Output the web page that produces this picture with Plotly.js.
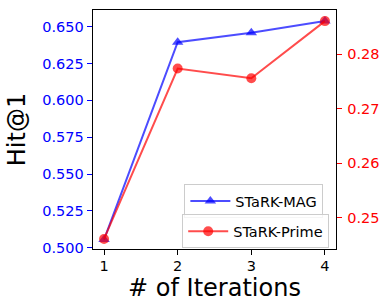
<!DOCTYPE html>
<html>
<head>
<meta charset="utf-8">
<script src="https://cdn.plot.ly/plotly-3.0.1.min.js"></script>
<style>html,body{margin:0;padding:0;background:#fff;}#chart{width:383px;height:302px;}</style>
</head>
<body>
<div id="chart"></div>
<script>
const iterations = [1, 2, 3, 4];
const starkMag = [0.5055, 0.6394, 0.6458, 0.6539];
const starkPrime = [0.2461, 0.2774, 0.2756, 0.2861];
const xTickLabels = ['1', '2', '3', '4'];
const leftTicks = [0.500, 0.525, 0.550, 0.575, 0.600, 0.625, 0.650];
const rightTicks = [0.25, 0.26, 0.27, 0.28];

const font = 'DejaVu Sans, sans-serif';
const traces = [
  {
    x: iterations, y: starkMag, name: 'STaRK-MAG', mode: 'lines+markers',
    line: {color: 'rgba(0,0,255,0.7)', width: 2},
    marker: {symbol: 'triangle-up', size: 10, color: 'rgba(0,0,255,0.7)'},
    yaxis: 'y', legend: 'legend'
  },
  {
    x: iterations, y: starkPrime, name: 'STaRK-Prime', mode: 'lines+markers',
    line: {color: 'rgba(255,0,0,0.7)', width: 2},
    marker: {symbol: 'circle', size: 10, color: 'rgba(255,0,0,0.7)'},
    yaxis: 'y2', legend: 'legend2'
  }
];
const layout = {
  width: 383, height: 302,
  margin: {l: 93, r: 47, t: 10, b: 53},
  paper_bgcolor: '#fff', plot_bgcolor: '#fff',
  font: {family: font, size: 14.5, color: '#000'},
  showlegend: true,
  xaxis: {
    range: [0.85, 4.15], tickvals: iterations, ticktext: xTickLabels,
    showgrid: false, zeroline: false, showline: true, mirror: true,
    linecolor: '#000', linewidth: 1.3, ticks: 'outside', ticklen: 5, tickcolor: '#000',
    ticklabelstandoff: -2,
    tickfont: {family: font, size: 14.5, color: '#000'},
    title: {text: '# of Iterations', font: {family: font, size: 24, color: '#000'}, standoff: 12}
  },
  yaxis: {
    range: [0.4991, 0.6613], tickvals: leftTicks,
    ticktext: leftTicks.map(v => v.toFixed(3)),
    showgrid: false, zeroline: false, showline: true, linecolor: '#000', linewidth: 1.3,
    ticks: 'outside', ticklen: 5, tickcolor: '#0000ff',
    tickfont: {family: font, size: 14.5, color: '#0000ff'},
    title: {text: 'Hit@1', font: {family: font, size: 24, color: '#000'}, standoff: 10}
  },
  yaxis2: {
    range: [0.24425, 0.28814], tickvals: rightTicks,
    ticktext: rightTicks.map(v => v.toFixed(2)),
    overlaying: 'y', side: 'right',
    showgrid: false, zeroline: false, showline: true, linecolor: '#000', linewidth: 1.3,
    ticks: 'outside', ticklen: 5, tickcolor: '#ff0000',
    ticklabelstandoff: 2,
    tickfont: {family: font, size: 14.5, color: '#ff0000'}
  },
  legend: {
    x: 0.948, y: 0.272, xanchor: 'right', yanchor: 'top', itemwidth: 40,
    bordercolor: '#cccccc', borderwidth: 1, bgcolor: 'rgba(255,255,255,0.8)',
    font: {family: font, size: 14.5, color: '#000'}
  },
  legend2: {
    x: 0.972, y: 0.145, xanchor: 'right', yanchor: 'top', itemwidth: 40,
    bordercolor: '#cccccc', borderwidth: 1, bgcolor: 'rgba(255,255,255,0.8)',
    font: {family: font, size: 14.5, color: '#000'}
  }
};
Plotly.newPlot('chart', traces, layout, {displayModeBar: false, staticPlot: true});
</script>
</body>
</html>
